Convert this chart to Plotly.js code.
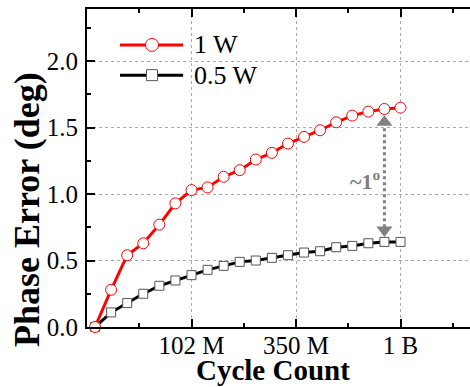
<!DOCTYPE html>
<html>
<head>
<meta charset="utf-8">
<script src="https://cdn.plot.ly/plotly-3.0.1.min.js"></script>
<style>
  html, body { margin: 0; padding: 0; overflow: hidden; background: #fff; }
  #chart { width: 510px; height: 387px; }
</style>
</head>
<body>
<div id="chart"></div>
<script>
// Sample index along the cycle-count axis (evenly spaced measurement points)
var sampleIndex = [0,1,2,3,4,5,6,7,8,9,10,11,12,13,14,15,16,17,18,19];
// Phase error (deg) for 1 W
var phase1W = [0.00,0.28,0.54,0.63,0.77,0.93,1.03,1.05,1.13,1.18,1.26,1.31,1.38,1.43,1.48,1.54,1.59,1.62,1.64,1.65];
// Phase error (deg) for 0.5 W
var phase05W = [0.00,0.11,0.18,0.25,0.31,0.35,0.39,0.43,0.46,0.49,0.50,0.52,0.54,0.56,0.57,0.60,0.61,0.63,0.64,0.64];
// Tick labels for the cycle count axis
var xTickPos = [6, 12.5, 19];
var xTickLabels = ["102 M", "350 M", "1 B"];
var seriesNames = ["1 W", "0.5 W"];
var arrowIdx = 18;

var serif = "'Times New Roman', 'Liberation Serif', 'DejaVu Serif', serif";
var gray = "#808080";

var traces = [
  {
    x: sampleIndex, y: phase05W, name: seriesNames[1], type: "scatter", mode: "lines+markers",
    line: {color: "#000000", width: 3},
    marker: {symbol: "square", size: 9, color: "#ffffff", line: {color: "#555555", width: 1}},
    showlegend: false, cliponaxis: false
  },
  {
    x: sampleIndex, y: phase1W, name: seriesNames[0], type: "scatter", mode: "lines+markers",
    line: {color: "#ff0000", width: 3},
    marker: {symbol: "circle", size: 11, color: "#ffffff", line: {color: "#ff0000", width: 1}},
    showlegend: false, cliponaxis: false
  },
  {
    x: [sampleIndex[arrowIdx], sampleIndex[arrowIdx]],
    y: [phase1W[arrowIdx] - 0.10, phase05W[arrowIdx] + 0.09],
    type: "scatter", mode: "markers", showlegend: false, hoverinfo: "skip",
    marker: {symbol: ["triangle-up", "triangle-down"], size: 14, color: gray}
  }
];

var axisCommon = {
  showline: true, linecolor: "#000000", linewidth: 2, mirror: "ticks",
  ticks: "inside", ticklen: 8, tickwidth: 2, tickcolor: "#000000",
  showgrid: true, gridcolor: "#aaaaaa", griddash: "dot", gridwidth: 1,
  zeroline: false,
  tickfont: {family: serif, size: 25, color: "#000000"}
};

var layout = {
  width: 510, height: 387,
  font: {family: serif, color: "#000000"},
  margin: {l: 87, r: 5, t: 9, b: 60, pad: 0},
  paper_bgcolor: "#ffffff", plot_bgcolor: "#ffffff",
  showlegend: false,
  xaxis: Object.assign({}, axisCommon, {
    range: [-0.5, 25.5],
    tickmode: "array", tickvals: xTickPos, ticktext: xTickLabels,
    minor: {tickvals: [2.75, 9.25, 15.75, 22.25], ticks: "inside", ticklen: 4, tickwidth: 2, tickcolor: "#000000", showgrid: false},
    ticklabelstandoff: -5
  }),
  yaxis: Object.assign({}, axisCommon, {
    range: [0, 2.392],
    tickmode: "linear", tick0: 0, dtick: 0.5, tickformat: ".1f",
    minor: {tick0: 0, dtick: 0.25, ticks: "inside", ticklen: 4, tickwidth: 2, tickcolor: "#000000", showgrid: false},
    ticklabelstandoff: 2
  }),
  shapes: [
    {type: "line", xref: "x", yref: "y",
     x0: sampleIndex[arrowIdx], x1: sampleIndex[arrowIdx],
     y0: phase1W[arrowIdx] - 0.10, y1: phase05W[arrowIdx] + 0.09,
     line: {color: gray, width: 3, dash: "dot"}, layer: "below"},
    {type: "line", xref: "paper", yref: "paper", x0: 0.079, x1: 0.230, y0: 0.887, y1: 0.887,
     line: {color: "#ff0000", width: 3}},
    {type: "circle", xref: "paper", yref: "paper", xsizemode: "pixel", ysizemode: "pixel",
     xanchor: 0.1555, yanchor: 0.887, x0: -6.5, x1: 6.5, y0: -6.5, y1: 6.5,
     fillcolor: "#ffffff", line: {color: "#ff0000", width: 1}},
    {type: "line", xref: "paper", yref: "paper", x0: 0.079, x1: 0.230, y0: 0.792, y1: 0.792,
     line: {color: "#000000", width: 3}},
    {type: "rect", xref: "paper", yref: "paper", xsizemode: "pixel", ysizemode: "pixel",
     xanchor: 0.1555, yanchor: 0.792, x0: -5.5, x1: 5.5, y0: -5.5, y1: 5.5,
     fillcolor: "#ffffff", line: {color: "#555555", width: 1}}
  ],
  annotations: [
    {xref: "paper", yref: "paper", x: 0.251, y: 0.887, xanchor: "left", yanchor: "middle",
     text: seriesNames[0], showarrow: false, font: {family: serif, size: 26, color: "#000000"}},
    {xref: "paper", yref: "paper", x: 0.251, y: 0.792, xanchor: "left", yanchor: "middle",
     text: seriesNames[1], showarrow: false, font: {family: serif, size: 26, color: "#000000"}},
    {xref: "x", yref: "y", x: 16.8, y: 1.105, xanchor: "center", yanchor: "middle",
     text: "<b>~1<sup>o</sup></b>", showarrow: false, font: {family: serif, size: 22, color: gray}},
    {xref: "paper", yref: "paper", x: -0.1435, y: 0.368, xanchor: "center", yanchor: "middle",
     textangle: -90, text: "<b>Phase Error (deg)</b>", showarrow: false,
     font: {family: serif, size: 36, color: "#000000"}},
    {xref: "paper", yref: "paper", x: 0.445, y: -0.136, xanchor: "center", yanchor: "middle",
     text: "<b>Cycle Count</b>", showarrow: false,
     font: {family: serif, size: 29, color: "#000000"}}
  ]
};

Plotly.newPlot("chart", traces, layout, {displayModeBar: false, staticPlot: true});
</script>
</body>
</html>
